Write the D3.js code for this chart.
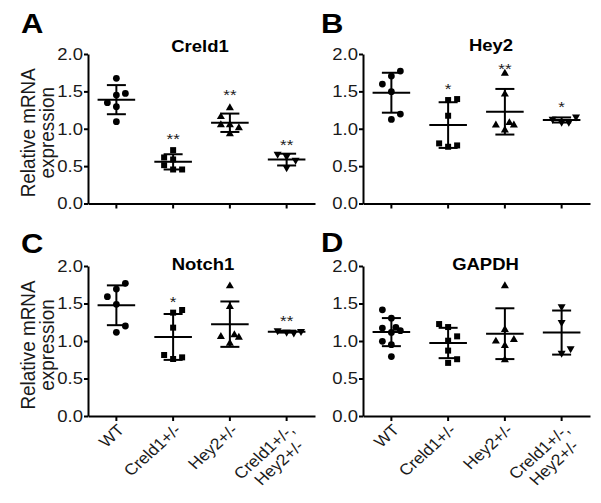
<!DOCTYPE html>
<html>
<head>
<meta charset="utf-8">
<script src="https://cdn.jsdelivr.net/npm/d3@7"></script>
<style>
  body { margin: 0; background: #fff; }
  svg { display: block; font-family: "Liberation Sans", Arial, Helvetica, sans-serif; }
</style>
</head>
<body>
<svg id="chart"></svg>
<script>
const width = 601, height = 503;
const SQ = 0.9; // text in the reference looks squashed vertically

const groups = ['WT', 'Creld1+/-', 'Hey2+/-', 'Creld1+/-, Hey2+/-'];
const groupLabels = [['WT'], ['Creld1+/-'], ['Hey2+/-'], ['Creld1+/-,', 'Hey2+/-']];
const yTicks = [0, 0.5, 1.0, 1.5, 2.0];

// Creld1
const creld1Values = [
  [1.674, 1.473, 1.451, 1.348, 1.295, 1.094],
  [0.714, 0.616, 0.589, 0.513, 0.455, 0.455],
  [1.28, 1.16, 1.05, 1.05, 1.01, 0.93],
  [0.66, 0.63, 0.58, 0.48]
];
const creld1Cols = [[0, 1, 0, -1, 0, 0], [0, -1, 0, -1, 0, 1], [0, -1, -1, 0, 1, 0], [-1, 0, 1, 0]];
const creld1Stars = ['', '**', '**', '**'];
const creld1StarLevel = [null, 0.92, 1.51, 0.83];

// Hey2
const hey2Values = [
  [1.772, 1.705, 1.598, 1.496, 1.196, 1.125],
  [1.397, 1.384, 1.174, 0.804, 0.759, 0.777],
  [1.741, 1.464, 1.049, 1.080, 1.049, 0.982],
  [1.13, 1.09, 1.09, 1.16]
];
const hey2Cols = [[1, 0, -1, 0, 1, 0], [1, 0, 0, -1, 0, 1], [0, 0, -1, 0.5, 1, 0], [-1, 0, 0.8, 1.6]];
const hey2Stars = ['', '*', '**', '*'];
const hey2StarLevel = [null, 1.59, 1.85, 1.34];

// Notch1
const notch1Values = [
  [1.769, 1.693, 1.591, 1.489, 1.200, 1.116],
  [1.413, 1.378, 1.178, 0.813, 0.760, 0.782],
  [1.733, 1.458, 1.058, 1.080, 1.049, 0.969],
  [1.14, 1.12, 1.11, 1.13]
];
const notch1Cols = [[1, 0, -1, 0, 1, 0], [1, 0, 0, -1, 0, 1], [0, 0, -1, 0.5, 1, 0], [-1, 0, 0.8, 1.6]];
const notch1Stars = ['', '*', '', '**'];
const notch1StarLevel = [null, 1.58, null, 1.32];

// GAPDH
const gapdhValues = [
  [1.416, 1.305, 1.173, 1.181, 1.137, 1.115, 0.996, 0.951, 0.792],
  [1.226, 1.186, 1.062, 1.004, 0.872, 0.708, 0.757],
  [1.735, 1.150, 0.996, 1.018, 0.938, 0.748],
  [1.46, 1.25, 0.90, 0.84]
];
const gapdhCols = [[-1, 0, -1, 0.5, 1, 0, -1, 0, 0], [-1, 0, 1, 0, 0, 0, 1], [0, 0, -1, 1, 0, 0], [0, 0, 1, 0]];
const gapdhStars = ['', '', '', ''];
const gapdhStarLevel = [null, null, null, null];

const panels = [
  {letter: 'A', title: 'Creld1', values: creld1Values, cols: creld1Cols, stars: creld1Stars, starLevel: creld1StarLevel,
   left: 88, top: 54, bottom: 203.5, yLabel: true, xLabels: false, titleX: 200, titleY: 52, letterX: 21, letterY: 33},
  {letter: 'B', title: 'Hey2', values: hey2Values, cols: hey2Cols, stars: hey2Stars, starLevel: hey2StarLevel,
   left: 363, top: 54, bottom: 203.5, yLabel: false, xLabels: false, titleX: 491, titleY: 51, letterX: 321, letterY: 33},
  {letter: 'C', title: 'Notch1', values: notch1Values, cols: notch1Cols, stars: notch1Stars, starLevel: notch1StarLevel,
   left: 88, top: 266, bottom: 416, yLabel: true, xLabels: true, titleX: 203, titleY: 270, letterX: 21, letterY: 253},
  {letter: 'D', title: 'GAPDH', values: gapdhValues, cols: gapdhCols, stars: gapdhStars, starLevel: gapdhStarLevel,
   left: 363, top: 266, bottom: 416, yLabel: false, xLabels: true, titleX: 485.5, titleY: 270, letterX: 321, letterY: 252}
];

const symbols = [d3.symbolCircle, d3.symbolSquare, d3.symbolTriangle, d3.symbolTriangle];
const symbolSizes = [36, 36, 28, 28];
const colStep = 9;
const meanHalf = 18.8, capHalf = 9.5;

const svg = d3.select('#chart')
  .attr('width', width)
  .attr('height', height);

svg.append('rect').attr('width', width).attr('height', height).attr('fill', '#fff');

const sq = (x, y, rot) => `translate(${x},${y}) scale(1,${SQ})` + (rot ? ` rotate(${rot})` : '');

panels.forEach(p => {
  const g = svg.append('g');

  const x = d3.scaleBand().domain(groups).range([p.left, p.left + 227]);
  const y = d3.scaleLinear().domain([0, 2]).range([p.bottom, p.top]);

  // y axis
  const ya = g.append('g')
    .attr('transform', `translate(${p.left},0)`)
    .call(d3.axisLeft(y).tickValues(yTicks).tickFormat(d3.format('.1f'))
      .tickSize(4).tickPadding(1).tickSizeOuter(0));
  ya.select('.domain').attr('stroke-width', 2);
  ya.selectAll('.tick line').attr('stroke-width', 2);
  ya.selectAll('.tick text')
    .attr('font-size', 18.5)
    .attr('font-family', null)
    .attr('fill', '#1a1a1a')
    .attr('transform', `scale(1,${SQ})`);

  // x axis
  const xa = g.append('g')
    .attr('transform', `translate(0,${p.bottom})`)
    .call(d3.axisBottom(x).tickSize(5).tickSizeOuter(0).tickFormat(''));
  xa.select('.domain').attr('stroke-width', 2);
  xa.selectAll('.tick line').attr('stroke-width', 2);

  // rotated group labels, bottom row only
  if (p.xLabels) {
    groups.forEach((grp, i) => {
      const cx = x(grp) + x.bandwidth() / 2;
      const t = g.append('text')
        .attr('transform', sq(cx + 9, p.bottom + 15, -45))
        .attr('text-anchor', 'end')
        .attr('font-size', 17.5)
        .attr('fill', '#1a1a1a');
      groupLabels[i].forEach((line, k) => {
        t.append('tspan')
          .attr('x', k === 0 ? 0 : -6)
          .attr('dy', k === 0 ? 0 : '1.1em')
          .text(line);
      });
    });
  }

  // y axis title
  if (p.yLabel) {
    const yt = g.append('text')
      .attr('transform', sq(0, (p.top + p.bottom) / 2 + 4, -90))
      .attr('text-anchor', 'middle')
      .attr('font-size', 21)
      .attr('fill', '#1a1a1a');
    yt.append('tspan').attr('x', 0).attr('y', 35).text('Relative mRNA');
    yt.append('tspan').attr('x', 0).attr('y', 54).text('expression');
  }

  // panel title and letter
  g.append('text')
    .attr('transform', sq(p.titleX, p.titleY))
    .attr('text-anchor', 'middle')
    .attr('font-size', 18.5)
    .attr('font-weight', 'bold')
    .text(p.title);
  g.append('text')
    .attr('transform', sq(p.letterX, p.letterY))
    .attr('font-size', 31)
    .attr('font-weight', 'bold')
    .text(p.letter);

  // points
  const pts = [];
  p.values.forEach((vals, i) => vals.forEach((v, j) => pts.push({i, v, c: p.cols[i][j]})));
  g.selectAll('path.pt').data(pts).join('path')
    .attr('class', 'pt')
    .attr('d', d => d3.symbol().type(symbols[d.i]).size(symbolSizes[d.i])())
    .attr('transform', d => `translate(${x(groups[d.i]) + x.bandwidth() / 2 + d.c * colStep},${y(d.v)})` + (d.i === 3 ? ' rotate(180)' : ''))
    .attr('fill', '#000');

  // mean +/- SD
  const stats = p.values.map((vals, i) => ({
    i,
    m: d3.mean(vals),
    s: d3.deviation(vals),
    cx: x(groups[i]) + x.bandwidth() / 2
  }));
  const sg = g.selectAll('g.stat').data(stats).join('g').attr('class', 'stat')
    .attr('stroke', '#000').attr('stroke-width', 2);
  sg.append('line')
    .attr('x1', d => d.cx - meanHalf).attr('x2', d => d.cx + meanHalf)
    .attr('y1', d => y(d.m)).attr('y2', d => y(d.m));
  sg.append('line')
    .attr('x1', d => d.cx).attr('x2', d => d.cx)
    .attr('y1', d => y(d.m - d.s)).attr('y2', d => y(d.m + d.s));
  sg.append('line')
    .attr('x1', d => d.cx - capHalf).attr('x2', d => d.cx + capHalf)
    .attr('y1', d => y(d.m + d.s)).attr('y2', d => y(d.m + d.s));
  sg.append('line')
    .attr('x1', d => d.cx - capHalf).attr('x2', d => d.cx + capHalf)
    .attr('y1', d => y(d.m - d.s)).attr('y2', d => y(d.m - d.s));

  // significance stars
  p.stars.forEach((s, i) => {
    if (!s) return;
    g.append('text')
      .attr('transform', sq(x(groups[i]) + x.bandwidth() / 2, y(p.starLevel[i]) + 9))
      .attr('text-anchor', 'middle')
      .attr('font-size', 17)
      .attr('fill', '#1a1a1a')
      .text(s);
  });
});
</script>
</body>
</html>
